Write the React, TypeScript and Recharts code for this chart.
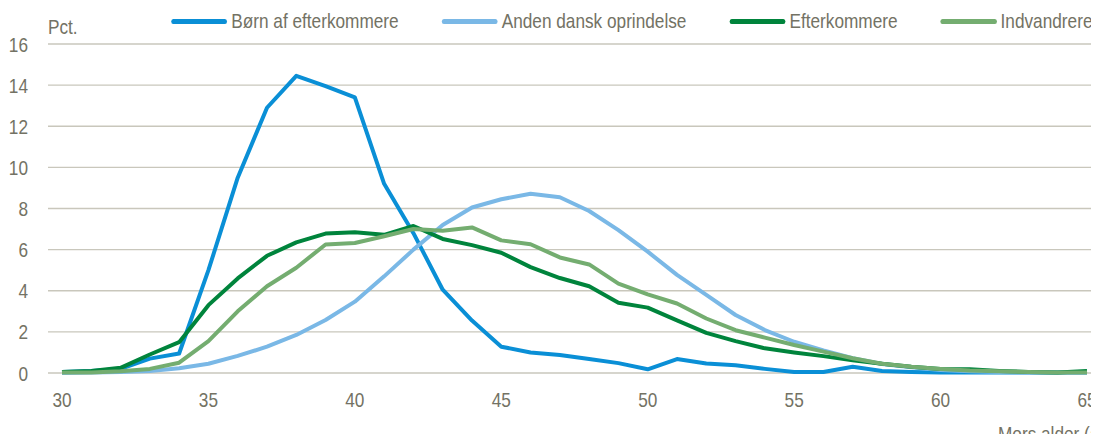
import React from 'react';
import { LineChart, Line, XAxis, YAxis, CartesianGrid, Legend } from 'recharts';

const ages = [
  30, 31, 32, 33, 34, 35, 36, 37, 38, 39, 40, 41, 42, 43, 44, 45, 46, 47,
  48, 49, 50, 51, 52, 53, 54, 55, 56, 57, 58, 59, 60, 61, 62, 63, 64, 65,
];

const boernAfEfterkommere = [
  0.05, 0.1, 0.2, 0.7, 0.95, 5.0, 9.5, 12.9, 14.45, 13.95, 13.4, 9.2, 6.8, 4.05, 2.55, 1.28, 1.0, 0.88,
  0.68, 0.48, 0.18, 0.68, 0.46, 0.38, 0.2, 0.05, 0.05, 0.3, 0.1, 0.05, 0.03, 0.03, 0.03, 0.03, 0.03, 0.03,
];
const andenDanskOprindelse = [
  0, 0.02, 0.05, 0.1, 0.23, 0.45, 0.83, 1.28, 1.85, 2.58, 3.47, 4.7, 6.0, 7.2, 8.05, 8.45, 8.72, 8.55,
  7.88, 6.95, 5.9, 4.77, 3.8, 2.82, 2.09, 1.52, 1.1, 0.72, 0.44, 0.28, 0.15, 0.08, 0.05, 0.03, 0.02, 0.02,
];
const efterkommere = [
  0.05, 0.1, 0.25, 0.9, 1.5, 3.3, 4.6, 5.7, 6.35, 6.78, 6.85, 6.72, 7.15, 6.52, 6.22, 5.85, 5.15, 4.62,
  4.22, 3.42, 3.18, 2.56, 1.95, 1.55, 1.2, 1.0, 0.82, 0.62, 0.45, 0.3, 0.2, 0.18, 0.1, 0.05, 0.03, 0.1,
];
const indvandrere = [
  0.02, 0.03, 0.08, 0.2, 0.5, 1.55, 3.0, 4.22, 5.12, 6.25, 6.32, 6.65, 7.0, 6.92, 7.08, 6.45, 6.26, 5.62,
  5.28, 4.35, 3.82, 3.38, 2.65, 2.08, 1.72, 1.36, 1.04, 0.72, 0.45, 0.3, 0.2, 0.12, 0.08, 0.05, 0.03, 0.03,
];

const xTicks = [30, 35, 40, 45, 50, 55, 60, 65];
const yTicks = [0, 2, 4, 6, 8, 10, 12, 14, 16];

const series = [
  { key: 'boern', name: 'Børn af efterkommere', color: '#0a8fd6', values: boernAfEfterkommere },
  { key: 'anden', name: 'Anden dansk oprindelse', color: '#7ab8e6', values: andenDanskOprindelse },
  { key: 'efter', name: 'Efterkommere', color: '#00843c', values: efterkommere },
  { key: 'indv', name: 'Indvandrere', color: '#74ad70', values: indvandrere },
];

const data = ages.map((age, i) => {
  const row: Record<string, number> = { age };
  series.forEach((s) => {
    row[s.key] = s.values[i];
  });
  return row;
});

// no narrow font installed, so squeeze Liberation Sans horizontally
const FONT = '"Liberation Sans", Arial, sans-serif';
const FS = 21;
const SQ = 0.82;
const TEXT = '#737264';

const NarrowText = ({ x, y, anchor, children }: any) => (
  <text
    transform={`translate(${x},${y}) scale(${SQ},1)`}
    textAnchor={anchor}
    fill={TEXT}
    fontSize={FS}
    fontFamily={FONT}
  >
    {children}
  </text>
);

const XTick = (props: any) => (
  <NarrowText x={props.x} y={props.y + 17} anchor="middle">
    {props.payload.value}
  </NarrowText>
);

const YTick = (props: any) => (
  <NarrowText x={props.x} y={props.y + 7.5} anchor="end">
    {props.payload.value}
  </NarrowText>
);

const LegendRow = () => (
  <div style={{ width: 1092, display: 'flex', justifyContent: 'flex-end' }}>
    <div
      style={{
        display: 'flex',
        alignItems: 'center',
        gap: 43 / SQ,
        fontFamily: FONT,
        fontSize: FS,
        color: TEXT,
        lineHeight: '24px',
        whiteSpace: 'nowrap',
        transform: `scaleX(${SQ})`,
        transformOrigin: 'right center',
      }}
    >
      {series.map((s) => (
        <div key={s.key} style={{ display: 'flex', alignItems: 'center', gap: 4 / SQ }}>
          <span
            style={{ width: 56 / SQ, height: 5, borderRadius: 3, background: s.color, display: 'inline-block' }}
          />
          <span>{s.name}</span>
        </div>
      ))}
    </div>
  </div>
);

export default function App() {
  return (
    <div style={{ margin: -8, width: 1099, height: 442, overflow: 'hidden', position: 'relative', background: '#fff' }}>
      <LineChart
        width={1120}
        height={442}
        data={data}
        margin={{ top: 44, right: 19, bottom: 0, left: 0 }}
      >
        <CartesianGrid vertical={false} stroke="#c9c7bc" strokeWidth={1.3} />
        <XAxis
          dataKey="age"
          type="number"
          domain={[30, 65]}
          ticks={xTicks}
          padding={{ left: 14, right: 14 }}
          height={69}
          axisLine={false}
          tickLine={false}
          tickSize={0}
          tickMargin={17}
          tick={<XTick />}
          label={(props: any) => {
            const vb = props.viewBox;
            return (
              <NarrowText x={vb.x + vb.width - 103} y={vb.y + 68} anchor="start">
                Mors alder (år)
              </NarrowText>
            );
          }}
        />
        <YAxis
          type="number"
          domain={[0, 16]}
          ticks={yTicks}
          width={48}
          axisLine={false}
          tickLine={false}
          tickSize={0}
          tickMargin={20}
          tick={<YTick />}
          label={(props: any) => {
            const vb = props.viewBox;
            return (
              <NarrowText x={vb.x + vb.width} y={34} anchor="start">
                Pct.
              </NarrowText>
            );
          }}
        />
        <Legend
          layout="horizontal"
          verticalAlign="middle"
          wrapperStyle={{ top: 9, left: 0, width: 1092 }}
          content={() => <LegendRow />}
        />
        {series.map((s) => (
          <Line
            key={s.key}
            type="linear"
            dataKey={s.key}
            name={s.name}
            stroke={s.color}
            strokeWidth={4}
            strokeLinejoin="round"
            dot={false}
            activeDot={false}
            isAnimationActive={false}
          />
        ))}
      </LineChart>
    </div>
  );
}
